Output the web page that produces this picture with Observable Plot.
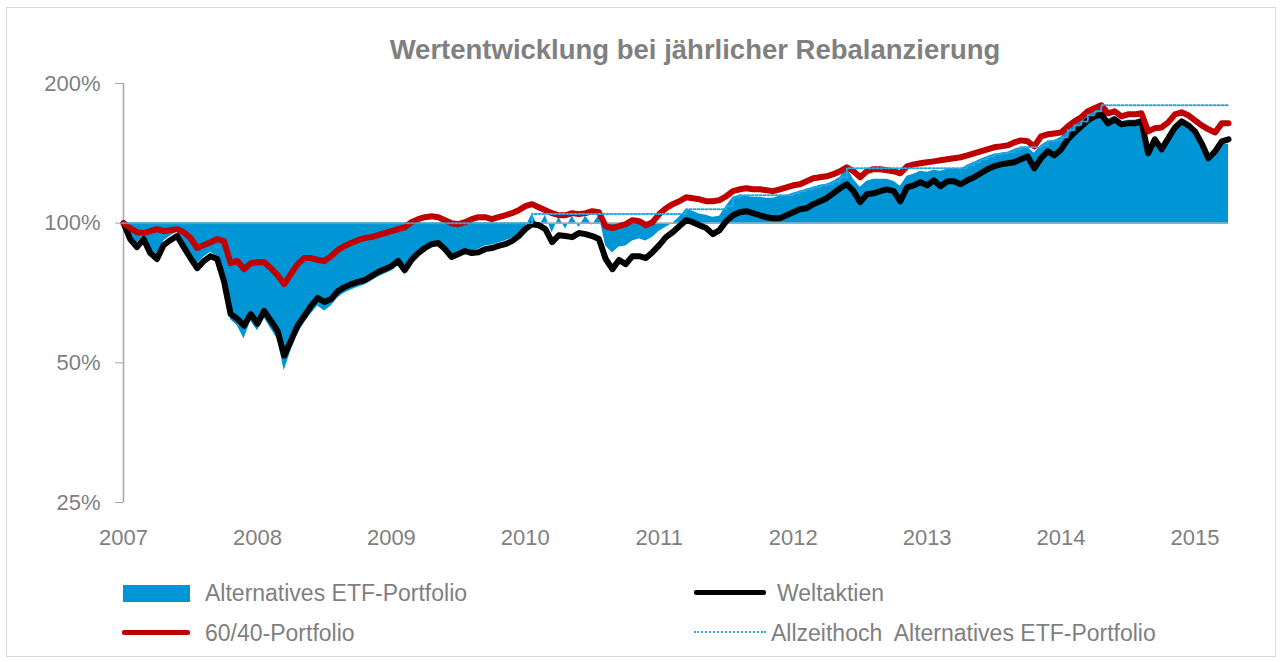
<!DOCTYPE html>
<html>
<head>
<meta charset="utf-8">
<script src="https://cdn.jsdelivr.net/npm/d3@7"></script>
<script src="https://cdn.jsdelivr.net/npm/@observablehq/plot@0.6"></script>
<style>
  html, body { margin: 0; padding: 0; background: #ffffff; }
  #wrap { position: relative; width: 1280px; height: 662px; overflow: hidden; font-family: "Liberation Sans", Arial, sans-serif; color: #7f7f7f; }
  #frame { position: absolute; left: 6px; top: 7px; width: 1268px; height: 648px; border: 1px solid #d9d9d9; }
  #title { position: absolute; left: 387px; top: 34px; width: 616px; text-align: center; white-space: nowrap; font-weight: bold; font-size: 27.5px; line-height: 32px; color: #808080; }
  #chart { position: absolute; left: 0; top: 0; }
  .lg { position: absolute; font-size: 23px; line-height: 26px; white-space: pre; color: #7f7f7f; }
  .sw { position: absolute; }
</style>
</head>
<body>
<div id="wrap">
  <div id="frame"></div>
  <div id="chart"></div>
  <div id="title">Wertentwicklung bei jährlicher Rebalanzierung</div>
  <div id="legend"></div>
</div>
<script>
// ---- data (values in %) ----
const years = [
  2007.00,2007.05,2007.10,2007.15,2007.20,2007.25,2007.30,2007.35,2007.40,2007.45,
  2007.50,2007.55,2007.60,2007.65,2007.70,2007.75,2007.80,2007.85,2007.90,2007.95,
  2008.00,2008.05,2008.10,2008.15,2008.20,2008.25,2008.30,2008.35,2008.40,2008.45,
  2008.50,2008.55,2008.60,2008.65,2008.70,2008.75,2008.80,2008.85,2008.90,2008.95,
  2009.00,2009.05,2009.10,2009.15,2009.20,2009.25,2009.30,2009.35,2009.40,2009.45,
  2009.50,2009.55,2009.60,2009.65,2009.70,2009.75,2009.80,2009.85,2009.90,2009.95,
  2010.00,2010.05,2010.10,2010.15,2010.20,2010.25,2010.30,2010.35,2010.40,2010.45,
  2010.50,2010.55,2010.60,2010.65,2010.70,2010.75,2010.80,2010.85,2010.90,2010.95,
  2011.00,2011.05,2011.10,2011.15,2011.20,2011.25,2011.30,2011.35,2011.40,2011.45,
  2011.50,2011.55,2011.60,2011.65,2011.70,2011.75,2011.80,2011.85,2011.90,2011.95,
  2012.00,2012.05,2012.10,2012.15,2012.20,2012.25,2012.30,2012.35,2012.40,2012.45,
  2012.50,2012.55,2012.60,2012.65,2012.70,2012.75,2012.80,2012.85,2012.90,2012.95,
  2013.00,2013.05,2013.10,2013.15,2013.20,2013.25,2013.30,2013.35,2013.40,2013.45,
  2013.50,2013.55,2013.60,2013.65,2013.70,2013.75,2013.80,2013.85,2013.90,2013.95,
  2014.00,2014.05,2014.10,2014.15,2014.20,2014.25,2014.30,2014.35,2014.40,2014.45,
  2014.50,2014.55,2014.60,2014.65,2014.70,2014.75,2014.80,2014.85,2014.90,2014.95,
  2015.00,2015.05,2015.10,2015.15,2015.20,2015.25
];
const weltaktien = [
  100,92.4,88.8,92.4,86.2,83.7,89.7,91.9,93.8,88.8,
  84.1,80.0,82.9,84.9,83.7,75.0,63.7,62.2,60.1,63.7,
  60.7,64.7,61.6,58.6,51.8,55.8,60.1,63.1,66.3,69.0,
  67.6,68.6,71.4,72.8,73.9,74.7,75.4,76.9,78.5,79.6,
  80.8,82.9,79.2,83.3,86.2,88.4,90.1,90.6,87.9,84.5,
  85.8,87.1,86.2,86.6,87.9,88.4,89.3,90.1,91.5,93.8,
  97.1,99.5,99.0,97.1,91.0,94.2,93.8,93.3,95.2,94.7,
  93.8,92.4,83.7,79.6,83.3,81.6,84.9,84.9,84.1,86.6,
  89.7,93.3,95.6,98.5,101.5,100.5,99.0,97.6,94.7,96.6,
  101.0,104.0,105.6,106.1,105.1,104.0,103.0,102.5,102.5,104.0,
  105.6,107.2,107.7,109.9,111.5,113.2,116.0,118.9,121.3,117.2,
  111.0,115.4,116.0,117.2,118.3,117.2,111.5,119.5,120.7,122.5,
  120.7,123.7,120.1,123.1,123.1,121.3,123.7,125.6,128.1,130.7,
  132.6,133.9,134.6,135.3,137.3,139.3,131.3,138.0,142.8,140.0,
  144.2,151.6,156.9,161.6,166.6,169.9,171.6,164.1,167.4,163.3,
  164.1,164.1,165.7,141.4,151.6,144.2,152.3,160.8,165.7,162.5,
  157.7,148.6,138.0,142.8,150.1,151.6
];
const portfolio6040 = [
  100,97.6,95.6,95.2,96.1,97.1,96.1,96.6,97.1,95.6,
  92.9,88.4,89.7,91.0,92.4,91.5,82.0,82.9,79.6,82.0,
  82.4,82.4,80.0,77.3,73.9,77.7,81.6,84.1,84.1,83.3,
  82.9,84.9,87.5,89.3,90.6,91.9,92.9,93.3,94.2,95.2,
  96.1,97.1,98.0,100.5,102.0,103.0,103.5,103.0,101.5,100.0,
  99.5,100.5,102.0,103.0,103.0,102.0,103.0,104.0,105.1,106.6,
  108.8,109.9,108.2,106.6,105.1,104.0,104.0,105.1,104.6,105.1,
  106.1,105.6,98.5,97.6,98.5,99.5,101.5,101.0,99.0,100.5,
  104.6,107.7,109.9,111.5,113.7,113.2,112.6,111.5,111.5,112.1,
  114.3,117.2,118.3,118.9,118.3,118.3,117.8,117.2,118.3,119.5,
  120.7,121.3,123.1,125.0,125.6,126.2,127.5,129.4,132.0,129.4,
  125.6,129.4,130.7,130.7,130.0,129.4,128.1,132.6,133.9,134.6,
  135.3,135.9,136.6,137.3,138.0,138.7,140.0,141.4,142.8,144.2,
  145.7,146.4,147.1,149.3,150.8,150.1,146.4,153.8,155.4,156.1,
  156.9,161.6,165.7,169.1,174.2,176.8,179.5,172.5,174.2,169.9,
  171.6,171.6,172.5,157.7,160.1,160.8,164.9,171.6,173.3,170.8,
  166.6,162.5,159.3,156.9,164.1,164.1
];
const alternativesETF = [
  100,93.8,90.6,94.2,87.9,85.4,91.5,93.8,95.6,90.6,
  85.8,81.6,84.5,86.6,84.9,76.2,61.9,60.1,56.3,61.6,
  58.6,62.5,59.2,56.3,48.1,53.1,57.7,60.9,63.7,66.3,
  64.7,66.3,69.0,70.7,71.8,72.8,73.6,75.0,76.5,77.7,
  78.8,80.8,77.3,81.6,84.9,87.5,89.3,90.1,87.1,83.7,
  85.4,87.1,87.1,87.9,89.3,89.7,90.6,91.5,92.9,94.7,
  97.6,104.6,98.0,104.0,95.2,103.0,97.1,103.5,98.0,103.5,
  99.0,104.0,89.3,86.2,88.8,89.3,91.5,92.4,91.5,93.3,
  96.1,98.0,100.0,103.0,107.2,106.1,104.6,104.0,103.0,103.5,
  108.8,113.7,114.9,114.3,113.7,113.7,113.2,113.2,114.3,114.9,
  116.0,117.2,118.3,119.5,120.7,121.3,123.1,125.6,131.3,124.3,
  119.5,123.1,124.3,124.3,124.3,123.1,120.1,126.2,127.5,129.4,
  128.7,130.0,129.4,130.7,131.3,130.7,133.3,135.3,137.3,139.3,
  140.7,141.4,142.1,144.2,145.7,145.7,141.4,147.1,150.1,150.8,
  153.1,158.5,162.5,165.7,170.8,174.2,179.5,167.4,169.9,165.7,
  166.6,166.6,168.2,142.8,151.6,145.7,153.1,162.5,166.6,163.3,
  157.7,148.6,138.0,141.4,147.9,147.9
];
// all-time high of the alternative portfolio (step points)
const allzeithochYears = [2007.00,2010.05,2011.20,2011.50,2011.55,2011.60,2012.00,2012.05,2012.10,2012.15,2012.20,2012.25,2012.30,2012.35,2012.40,2013.30,2013.35,2013.40,2013.45,2013.50,2013.55,2013.60,2013.65,2013.70,2013.85,2013.90,2013.95,2014.00,2014.05,2014.10,2014.15,2014.20,2014.25,2014.30,2015.25];
const allzeithochValues = [100,104.6,107.2,108.8,113.7,114.9,116.0,117.2,118.3,119.5,120.7,121.3,123.1,125.6,131.3,133.3,135.3,137.3,139.3,140.7,141.4,142.1,144.2,145.7,147.1,150.1,150.8,153.1,158.5,162.5,165.7,170.8,174.2,179.5,179.5];

const yTicks = [25, 50, 100, 200];
const xTicks = [2007, 2008, 2009, 2010, 2011, 2012, 2013, 2014, 2015];
const seriesNames = ["Alternatives ETF-Portfolio", "Weltaktien", "60/40-Portfolio", "Allzeithoch  Alternatives ETF-Portfolio"];
const colors = { alt: "#0096d6", welt: "#000000", mix: "#c00000", ath: "#2aa8e2", axis: "#a6a6a6", text: "#7f7f7f" };

// ---- build ----
const rows = years.map((t, i) => ({ t, welt: weltaktien[i], mix: portfolio6040[i], alt: alternativesETF[i] }));
const ath = allzeithochYears.map((t, i) => ({ t, v: allzeithochValues[i] }));

const chart = Plot.plot({
  width: 1280,
  height: 540,
  marginLeft: 123,
  marginRight: 52,
  marginTop: 83,
  marginBottom: 38,
  style: { fontFamily: "'Liberation Sans', Arial, sans-serif", fontSize: "22px", color: colors.text, background: "transparent", overflow: "visible" },
  x: { type: "linear", domain: [2007, 2015.25], axis: null },
  y: { type: "log", domain: [25, 200], axis: null },
  marks: [
    Plot.areaY(rows, { x: "t", y1: () => 100, y2: "alt", fill: colors.alt }),
    Plot.ruleY([100], { stroke: colors.axis, strokeWidth: 1.5 }),
    Plot.ruleX([2007], { y1: 25, y2: 200, stroke: colors.axis, strokeWidth: 1.5 }),
    Plot.lineY(rows, { x: "t", y: "welt", stroke: colors.welt, strokeWidth: 6, strokeLinejoin: "round", strokeLinecap: "round" }),
    Plot.lineY(rows, { x: "t", y: "mix", stroke: colors.mix, strokeWidth: 6, strokeLinejoin: "round", strokeLinecap: "round" }),
    Plot.line(ath, { x: "t", y: "v", stroke: colors.ath, strokeWidth: 2, strokeDasharray: "2 2", curve: "step-after" }),
    Plot.axisY({ ticks: yTicks, tickFormat: d => d + "%", tickSize: 8, tickPadding: 15, stroke: colors.axis, fill: colors.text, fontSize: 22, label: null }),
    Plot.axisX({ ticks: xTicks, tickFormat: d => String(d), tickSize: 0, tickPadding: 27, fill: colors.text, fontSize: 22, label: null })
  ]
});
document.getElementById("chart").appendChild(chart);

// ---- legend ----
const lg = document.getElementById("legend");
function addSwatch(style) {
  const d = document.createElement("div");
  d.className = "sw";
  Object.assign(d.style, style);
  lg.appendChild(d);
}
function addText(txt, left, top) {
  const d = document.createElement("div");
  d.className = "lg";
  d.textContent = txt;
  d.style.left = left + "px";
  d.style.top = top + "px";
  lg.appendChild(d);
}
addSwatch({ left: "123px", top: "585px", width: "67px", height: "17px", background: colors.alt });
addText(seriesNames[0], 205, 580);
addSwatch({ left: "694px", top: "590px", width: "72px", height: "5px", background: colors.welt, borderRadius: "2px" });
addText(seriesNames[1], 777, 580);
addSwatch({ left: "122px", top: "630px", width: "68px", height: "5px", background: colors.mix, borderRadius: "2px" });
addText(seriesNames[2], 205, 620);
addSwatch({ left: "694px", top: "631px", width: "72px", height: "0px", borderTop: "2px dotted " + colors.ath });
addText(seriesNames[3], 771, 620);
</script>
</body>
</html>
